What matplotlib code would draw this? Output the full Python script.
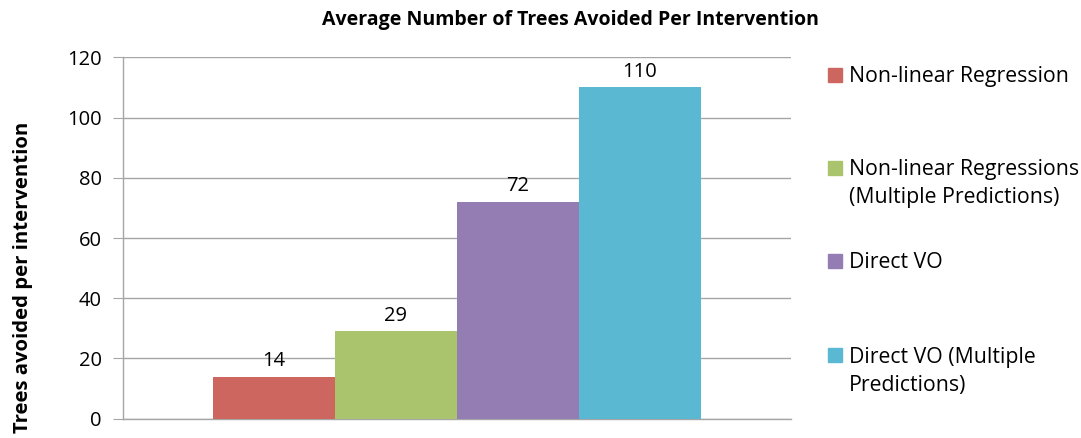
import matplotlib
matplotlib.use("Agg")
import matplotlib.pyplot as plt
from matplotlib.patches import Rectangle

series = ["Non-linear Regression",
          "Non-linear Regressions\n(Multiple Predictions)",
          "Direct VO",
          "Direct VO (Multiple\nPredictions)"]
values = [14, 29, 72, 110]
colors = ["#CD665F", "#A9C46C", "#937DB3", "#5BB8D2"]
yticks = [0, 20, 40, 60, 80, 100, 120]
title = "Average Number of Trees Avoided Per Intervention"
ylabel = "Trees avoided per intervention"

plt.rcParams['font.family'] = ['Open Sans', 'DejaVu Sans']

W, H = 1081, 438
fig = plt.figure(figsize=(W / 100, H / 100), dpi=100)
ax = fig.add_axes([122.7 / W, 1 - 418.7 / H, (791 - 122.7) / W, (418.7 - 57.3) / H])

n = len(values)
xs = [i - (n - 1) / 2 for i in range(n)]
ax.bar(xs, values, width=1.0, color=colors, zorder=3)
half = (n / ((700 - 212.7) / (791 - 122.7))) / 2
ax.set_xlim(-half, half)
ax.set_ylim(0, 120)
ax.set_yticks(yticks)
ax.set_yticklabels([str(t) for t in yticks], fontsize=14.5)
ax.set_xticks([])
ax.grid(axis='y', color='#A6A6A6', linewidth=1, zorder=0)
for s in ['top', 'right']:
    ax.spines[s].set_visible(False)
for s in ['left', 'bottom']:
    ax.spines[s].set_color('#A6A6A6')
    ax.spines[s].set_linewidth(1)
ax.tick_params(axis='y', length=7, color='#A6A6A6', pad=8, labelcolor='black')

for x, v in zip(xs, values):
    ax.annotate(str(v), (x, v), xytext=(0, 4), textcoords='offset points',
                ha='center', va='bottom', fontsize=14.5)

fig.text(570 / W, 1 - 20 / H, title, ha='center', va='center', fontsize=14, fontweight='bold')
fig.text(23 / W, 1 - 277 / H, ylabel, ha='center', va='center', rotation=90,
         fontsize=14.6, fontweight='bold')

# legend
entry_y = [76.7, 170, 263, 357]
for lab, c, y in zip(series, colors, entry_y):
    fig.patches.append(Rectangle((828 / W, 1 - (y - 9) / H), 14 / W, -14 / H,
                                 transform=fig.transFigure, color=c))
    lines = lab.split("\n")
    for k, line in enumerate(lines):
        fig.text(849 / W, 1 - (y + 28 * k) / H, line, ha='left', va='center', fontsize=15.3)

fig.savefig("out.png", dpi=100)
